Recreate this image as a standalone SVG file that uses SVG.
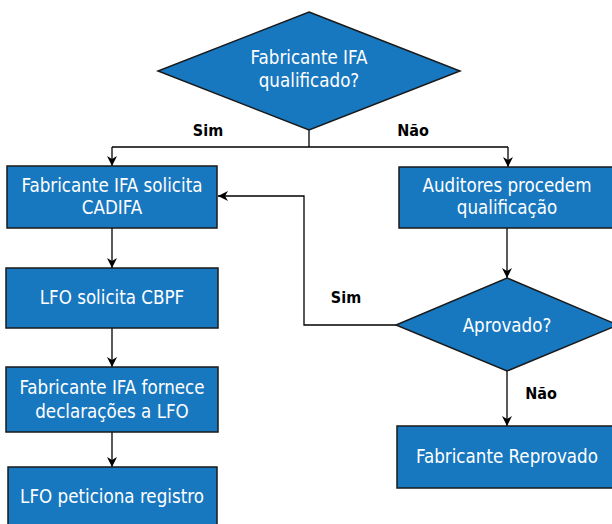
<svg xmlns="http://www.w3.org/2000/svg" width="612" height="524" viewBox="0 0 612 524">
<defs>
<marker id="ah" viewBox="0 0 10 10" refX="10" refY="5" markerWidth="10" markerHeight="10" markerUnits="userSpaceOnUse" orient="auto">
<path d="M0,0 L10,5 L0,10 L3,5 z" fill="#000"/>
</marker>
<style>
.n{fill:#1777bf;stroke:#1a1a1a;stroke-width:1.5}
.t{fill:#fff;font-family:"DejaVu Sans Condensed","Open Sans",sans-serif;font-size:18.6px;text-anchor:middle}
.l{fill:#000;font-family:"DejaVu Sans Condensed","Open Sans",sans-serif;font-size:16px;font-weight:bold;text-anchor:middle}
.c{fill:none;stroke:#000;stroke-width:1.3}
</style>
</defs>
<rect width="612" height="524" fill="#fff"/>
<g id="connectors">
<path class="c" d="M309,130 V147"/>
<path class="c" d="M112,147 H508"/>
<path class="c" d="M112,147 V166" marker-end="url(#ah)"/>
<path class="c" d="M508,147 V167" marker-end="url(#ah)"/>
<path class="c" d="M112,228 V268" marker-end="url(#ah)"/>
<path class="c" d="M112,328 V367" marker-end="url(#ah)"/>
<path class="c" d="M112,432 V467" marker-end="url(#ah)"/>
<path class="c" d="M507,228 V278" marker-end="url(#ah)"/>
<path class="c" d="M396,325 H304 V196 H218" marker-end="url(#ah)"/>
<path class="c" d="M507,371 V426" marker-end="url(#ah)"/>
<text class="l" x="208" y="136">Sim</text>
<text class="l" x="413" y="136">Não</text>
<text class="l" x="346" y="303">Sim</text>
<text class="l" x="541" y="399">Não</text>
</g>
<g id="q1">
<polygon class="n" points="309,12 460,71 309,130 158,71"/>
<text class="t" x="309" y="64">Fabricante IFA</text>
<text class="t" x="309" y="87">qualificado?</text>
</g>
<g id="b1">
<rect class="n" x="7" y="166" width="210" height="62"/>
<text class="t" x="112" y="192">Fabricante IFA solicita</text>
<text class="t" x="112" y="214">CADIFA</text>
</g>
<g id="b2">
<rect class="n" x="6" y="268" width="212" height="60"/>
<text class="t" x="112" y="304">LFO solicita CBPF</text>
</g>
<g id="b3">
<rect class="n" x="6" y="367" width="212" height="65"/>
<text class="t" x="112" y="394">Fabricante IFA fornece</text>
<text class="t" x="112" y="418">declarações a LFO</text>
</g>
<g id="b4">
<rect class="n" x="8" y="467" width="209" height="62"/>
<text class="t" x="112" y="503">LFO peticiona registro</text>
</g>
<g id="b5">
<rect class="n" x="399" y="167" width="216" height="61"/>
<text class="t" x="507" y="192">Auditores procedem</text>
<text class="t" x="507" y="214">qualificação</text>
</g>
<g id="q2">
<polygon class="n" points="507,278 618,325 507,371 396,325"/>
<text class="t" x="507" y="332">Aprovado?</text>
</g>
<g id="b6">
<rect class="n" x="397" y="426" width="218" height="62"/>
<text class="t" x="507" y="463">Fabricante Reprovado</text>
</g>
</svg>
